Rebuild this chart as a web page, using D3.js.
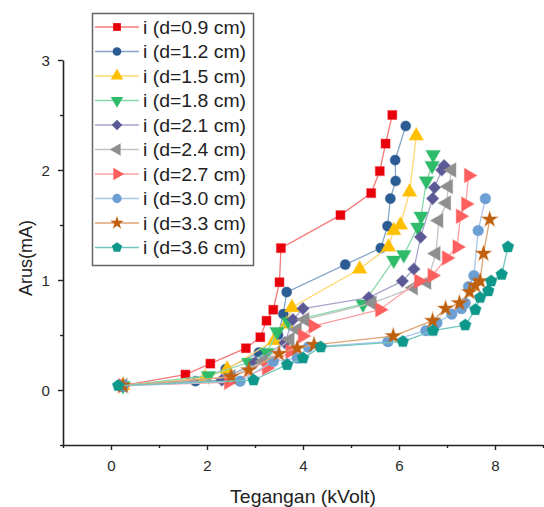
<!DOCTYPE html>
<html>
<head>
<meta charset="utf-8">
<script src="https://cdn.jsdelivr.net/npm/d3@7"></script>
<style>
  body { margin: 0; background: #fff; }
  svg { display: block; font-family: "Liberation Sans", Arial, sans-serif; }
</style>
</head>
<body>
<div id="chart"></div>
<script>
// series labels
var labels = ["i (d=0.9 cm)", "i (d=1.2 cm)", "i (d=1.5 cm)", "i (d=1.8 cm)", "i (d=2.1 cm)",
              "i (d=2.4 cm)", "i (d=2.7 cm)", "i (d=3.0 cm)", "i (d=3.3 cm)", "i (d=3.6 cm)"];

// voltage (kVolt) / current (mA) per gap distance
var v09 = [0.23, 1.55, 2.07, 2.81, 3.11, 3.24, 3.38, 3.51, 3.54, 4.78, 5.42, 5.60, 5.72, 5.86];
var i09 = [0.04, 0.14, 0.24, 0.38, 0.48, 0.63, 0.73, 0.98, 1.29, 1.59, 1.79, 1.99, 2.24, 2.50];

var v12 = [0.25, 1.76, 2.39, 3.08, 3.48, 3.59, 3.66, 4.88, 5.62, 5.76, 5.82, 5.93, 5.92, 6.14];
var i12 = [0.04, 0.08, 0.19, 0.34, 0.50, 0.69, 0.89, 1.14, 1.29, 1.49, 1.74, 1.90, 2.09, 2.40];

var v15 = [0.25, 1.96, 2.42, 3.40, 3.66, 3.77, 5.18, 5.78, 5.89, 6.03, 6.22, 6.36];
var i15 = [0.04, 0.11, 0.19, 0.45, 0.60, 0.75, 1.10, 1.30, 1.45, 1.50, 1.80, 2.31];

var v18 = [0.25, 2.03, 2.87, 3.25, 3.46, 3.70, 5.25, 5.89, 6.10, 6.39, 6.46, 6.57, 6.69, 6.71];
var i18 = [0.04, 0.13, 0.25, 0.34, 0.53, 0.62, 0.78, 1.18, 1.23, 1.48, 1.58, 1.90, 2.04, 2.14];

var v21 = [0.25, 2.31, 3.00, 3.62, 3.79, 4.00, 5.37, 6.07, 6.31, 6.45, 6.70, 6.74, 6.89, 6.94];
var i21 = [0.04, 0.09, 0.25, 0.43, 0.64, 0.74, 0.84, 0.99, 1.10, 1.39, 1.74, 1.84, 2.00, 2.04];

var v24 = [0.25, 2.50, 3.17, 3.73, 3.88, 4.04, 5.44, 6.30, 6.58, 6.77, 6.83, 6.99, 7.03, 7.10];
var i24 = [0.04, 0.12, 0.26, 0.46, 0.55, 0.64, 0.79, 0.93, 0.98, 1.24, 1.54, 1.70, 1.85, 2.00];

var v27 = [0.25, 2.45, 3.24, 3.73, 3.99, 4.21, 5.60, 6.41, 6.69, 6.99, 7.21, 7.28, 7.39, 7.45];
var i27 = [0.04, 0.07, 0.20, 0.35, 0.49, 0.58, 0.73, 0.99, 1.04, 1.20, 1.30, 1.58, 1.69, 1.95];

var v30 = [0.25, 2.69, 3.38, 3.88, 4.11, 5.77, 6.56, 6.79, 7.10, 7.30, 7.38, 7.45, 7.56, 7.65, 7.80];
var i30 = [0.04, 0.08, 0.26, 0.29, 0.39, 0.44, 0.54, 0.61, 0.69, 0.74, 0.79, 0.94, 1.04, 1.45, 1.74];

var v33 = [0.25, 2.50, 2.87, 3.50, 3.88, 4.23, 5.88, 6.70, 6.97, 7.26, 7.47, 7.59, 7.69, 7.76, 7.89];
var i33 = [0.04, 0.12, 0.18, 0.33, 0.38, 0.41, 0.49, 0.63, 0.74, 0.79, 0.89, 0.95, 0.99, 1.24, 1.55];

var v36 = [0.15, 2.97, 3.67, 4.00, 4.37, 6.08, 6.71, 7.38, 7.59, 7.69, 7.86, 7.92, 8.14, 8.27];
var i36 = [0.04, 0.09, 0.23, 0.29, 0.39, 0.44, 0.54, 0.59, 0.73, 0.84, 0.90, 0.99, 1.05, 1.30];

var xTicks = [0, 2, 4, 6, 8];
var xMinor = [-1, 1, 3, 5, 7, 9];
var yTicks = [0, 1, 2, 3];
var yMinor = [-0.5, 0.5, 1.5, 2.5];

// pentagon marker, not in d3
var symbolPentagon = {
    draw: function (ctx, size) {
        var r = Math.sqrt(size / (2.5 * Math.sin(2 * Math.PI / 5)));
        for (var k = 0; k < 5; k++) {
            var a = -Math.PI / 2 + k * 2 * Math.PI / 5;
            if (k === 0) ctx.moveTo(r * Math.cos(a), r * Math.sin(a));
            else ctx.lineTo(r * Math.cos(a), r * Math.sin(a));
        }
        ctx.closePath();
    }
};

var styles = [
    { mark: "#e8000b", line: "#f47a7a", sym: d3.symbolSquare, rot: 0, size: 80 },
    { mark: "#2b5c93", line: "#86a5ca", sym: d3.symbolCircle, rot: 0, size: 80 },
    { mark: "#ffc000", line: "#ffd870", sym: d3.symbolTriangle, rot: 0, size: 90 },
    { mark: "#2ebb6a", line: "#8ad8aa", sym: d3.symbolTriangle, rot: 180, size: 90 },
    { mark: "#5b5a96", line: "#a6a5c9", sym: d3.symbolSquare, rot: 45, size: 75 },
    { mark: "#8f8f8f", line: "#c4c4c4", sym: d3.symbolTriangle, rot: -90, size: 90 },
    { mark: "#ff5f5f", line: "#ffa0a0", sym: d3.symbolTriangle, rot: 90, size: 90 },
    { mark: "#6c9fd3", line: "#a9c6e8", sym: d3.symbolCircle, rot: 0, size: 90 },
    { mark: "#c0600e", line: "#dda574", sym: d3.symbolStar, rot: 0, size: 75 },
    { mark: "#0e978b", line: "#72c6be", sym: symbolPentagon, rot: 0, size: 90 }
];

var vs = [v09, v12, v15, v18, v21, v24, v27, v30, v33, v36];
var is = [i09, i12, i15, i18, i21, i24, i27, i30, i33, i36];

var series = labels.map(function (name, k) {
    return {
        name: name,
        style: styles[k],
        points: vs[k].map(function (v, j) { return { x: v, y: is[k][j] }; })
    };
});

var width = 544, height = 507;
var x = d3.scaleLinear().domain([-1, 9]).range([63, 543]);
var y = d3.scaleLinear().domain([-0.5, 3]).range([445, 60]);

var svg = d3.select("#chart").append("svg")
    .attr("width", width)
    .attr("height", height);

// axes
var xAxis = svg.append("g")
    .attr("transform", "translate(0," + y(-0.5) + ")")
    .call(d3.axisBottom(x).tickValues(xTicks).tickSize(5).tickSizeOuter(0).tickFormat(d3.format("d")));
var xMinorG = svg.append("g")
    .attr("transform", "translate(0," + y(-0.5) + ")")
    .call(d3.axisBottom(x).tickValues(xMinor).tickSize(3).tickSizeOuter(0).tickFormat(""));
xMinorG.select(".domain").remove();

var yAxis = svg.append("g")
    .attr("transform", "translate(" + x(-1) + ",0)")
    .call(d3.axisLeft(y).tickValues(yTicks).tickSize(5).tickSizeOuter(0).tickFormat(d3.format("d")));
var yMinorG = svg.append("g")
    .attr("transform", "translate(" + x(-1) + ",0)")
    .call(d3.axisLeft(y).tickValues(yMinor).tickSize(3).tickSizeOuter(0).tickFormat(""));
yMinorG.select(".domain").remove();

svg.selectAll(".domain").style("stroke", "#222").style("stroke-width", 1.6);
svg.selectAll(".tick line").style("stroke", "#222").style("stroke-width", 1.4);

xAxis.selectAll(".tick text")
    .attr("y", null).attr("dy", null)
    .attr("transform", "translate(0,26) scale(1.08,1)")
    .style("font-size", "14px").style("fill", "#2a2a2a")
    .style("font-family", "'Liberation Sans', Arial, sans-serif");
yAxis.selectAll(".tick text")
    .attr("x", null).attr("dy", null)
    .attr("transform", "translate(-13,5) scale(1.08,1)")
    .style("font-size", "14px").style("fill", "#2a2a2a")
    .style("font-family", "'Liberation Sans', Arial, sans-serif");

// axis titles
svg.append("text")
    .attr("transform", "translate(" + x(4) + ",503) scale(1.08,1)")
    .attr("text-anchor", "middle")
    .style("font-size", "18px").style("fill", "#222")
    .text("Tegangan (kVolt)");
svg.append("text")
    .attr("transform", "translate(32,258) rotate(-90)")
    .attr("text-anchor", "middle")
    .style("font-size", "18px").style("fill", "#222")
    .text("Arus(mA)");

// series
var line = d3.line()
    .x(function (d) { return x(d.x); })
    .y(function (d) { return y(d.y); });

var seriesG = svg.selectAll(".series")
    .data(series)
    .enter().append("g")
    .attr("class", "series");

seriesG.append("path")
    .attr("d", function (d) { return line(d.points); })
    .style("fill", "none")
    .style("stroke", function (d) { return d.style.line; })
    .style("stroke-width", 1.3);

seriesG.each(function (s) {
    var sym = d3.symbol().type(s.style.sym).size(s.style.size);
    d3.select(this).selectAll(".pt")
        .data(s.points)
        .enter().append("path")
        .attr("class", "pt")
        .attr("transform", function (d) {
            return "translate(" + x(d.x) + "," + y(d.y) + ") rotate(" + s.style.rot + ")";
        })
        .attr("d", sym)
        .style("fill", s.style.mark)
        .style("stroke", s.style.mark)
        .style("stroke-opacity", 0.35)
        .style("stroke-width", 1.2);
});

// legend
var legend = svg.append("g").attr("class", "legend");
legend.append("rect")
    .attr("x", 92.5).attr("y", 13.5)
    .attr("width", 161).attr("height", 252)
    .style("fill", "#fff")
    .style("stroke", "#666")
    .style("stroke-width", 1.5);

var rows = legend.selectAll(".row")
    .data(series)
    .enter().append("g")
    .attr("class", "row")
    .attr("transform", function (d, k) { return "translate(0," + (27 + k * 24.5) + ")"; });

rows.append("line")
    .attr("x1", 95).attr("x2", 139)
    .attr("y1", 0).attr("y2", 0)
    .style("stroke", function (d) { return d.style.line; })
    .style("stroke-width", 1.5);

rows.append("path")
    .attr("transform", function (d) { return "translate(117,0) rotate(" + d.style.rot + ")"; })
    .attr("d", function (d) { return d3.symbol().type(d.style.sym).size(d.style.size * 0.75)(); })
    .style("fill", function (d) { return d.style.mark; });

rows.append("text")
    .attr("transform", "translate(143,6.5) scale(1.08,1)")
    .style("font-size", "18px").style("fill", "#222")
    .text(function (d) { return d.name; });
</script>
</body>
</html>
